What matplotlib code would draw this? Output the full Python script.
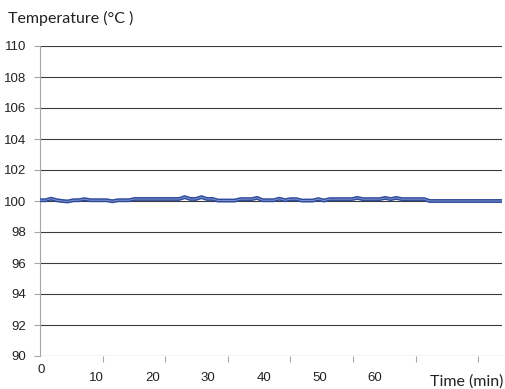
import matplotlib
matplotlib.use("Agg")
import matplotlib.pyplot as plt
import numpy as np

BLUE = "#2E4A9C"
BLUE_LIGHT = "#8296CF"
GRID = "#3C3C3C"
AXIS = "#A6A6A6"
TEXT = "#222222"

# temperature reading per minute
minutes = list(range(84))
temperature = [
    100.05, 100.05, 100.15, 100.05, 100.00, 99.97, 100.05, 100.05, 100.12, 100.05,
    100.05, 100.05, 100.05, 99.98, 100.05, 100.05, 100.05, 100.13, 100.13, 100.13,
    100.13, 100.13, 100.13, 100.13, 100.13, 100.13, 100.25, 100.13, 100.13, 100.25,
    100.13, 100.13, 100.03, 100.03, 100.03, 100.03, 100.12, 100.12, 100.12, 100.20,
    100.05, 100.05, 100.05, 100.15, 100.05, 100.12, 100.12, 100.03, 100.03, 100.03,
    100.12, 100.03, 100.12, 100.12, 100.12, 100.12, 100.12, 100.20, 100.12, 100.12,
    100.12, 100.12, 100.20, 100.12, 100.20, 100.12, 100.12, 100.12, 100.12, 100.12,
    100.00, 100.00, 100.00, 100.00, 100.00, 100.00, 100.00, 100.00, 100.00, 100.00,
    100.00, 100.00, 100.00, 100.00,
]
y_ticks = list(range(90, 111, 2))
x_labels = [0, 10, 20, 30, 40, 50, 60]
category_step = 11.25

fig = plt.figure(figsize=(5.05, 3.89), dpi=100)
ax = fig.add_axes([40 / 505, 33 / 389, 462 / 505, 310 / 389])

ax.plot(minutes, temperature, color=BLUE, lw=2.8, solid_joinstyle="round", zorder=3)
ax.plot(minutes, temperature, color=BLUE_LIGHT, lw=0.7, solid_joinstyle="round", zorder=4)

ax.set_xlim(0, 83)
ax.set_ylim(90, 110)
ax.set_yticks(y_ticks)
ax.set_yticklabels([str(v) for v in y_ticks], fontsize=9.5, color=TEXT, family="Liberation Sans")
ax.yaxis.grid(True, color=GRID, lw=0.8)
ax.set_axisbelow(True)

for s in ("top", "right", "bottom"):
    ax.spines[s].set_visible(False)
ax.spines["left"].set_color(AXIS)
ax.spines["left"].set_linewidth(0.8)
ax.tick_params(axis="y", length=4, width=0.8, color=AXIS, pad=6)

ax.set_xticks(np.arange(0, 83, category_step)[1:])
ax.set_xticklabels([])
ax.tick_params(axis="x", length=4, width=0.8, color=AXIS)

for v in x_labels:
    ax.text(v + 0.2, -0.045 if v == 0 else -0.07, str(v),
            transform=ax.get_xaxis_transform(), ha="center", va="center",
            fontsize=9.5, color=TEXT, family="Liberation Sans")

fig.text(8 / 505, 1 - 18 / 389, "Temperature (°C )", ha="left", va="center",
         fontsize=11.5, color=TEXT, family="Lato")
fig.text(503 / 505, 1 - 382 / 389, "Time (min)", ha="right", va="center",
         fontsize=11.5, color=TEXT, family="Lato")

fig.savefig("out.png", dpi=100, facecolor="white")
